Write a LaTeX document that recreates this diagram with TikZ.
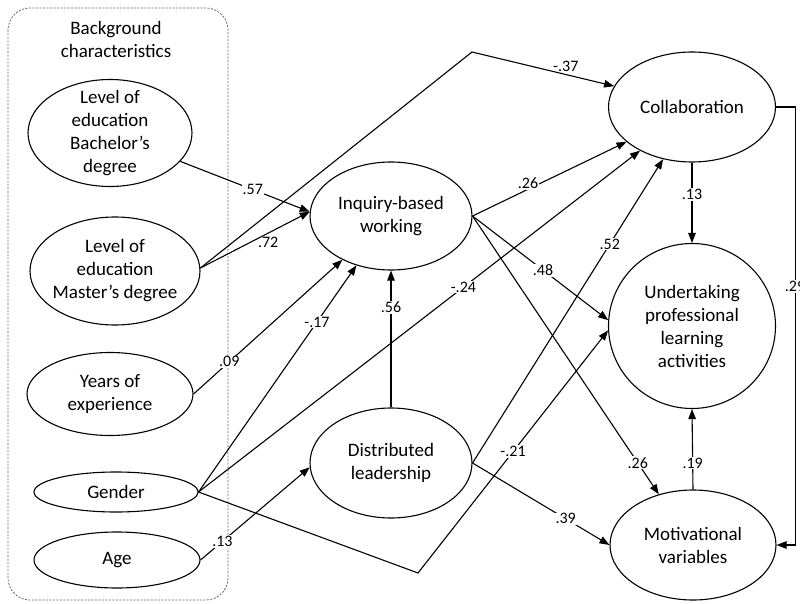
\documentclass[tikz,border=0pt]{standalone}
\usepackage{fontspec}
\setmainfont{Carlito}
\usetikzlibrary{shapes.geometric,arrows.meta,calc}
\begin{document}
\begin{tikzpicture}[x=1pt,y=-1pt,
  var/.style={ellipse,draw,line width=1.1pt,inner sep=-8pt,align=center,
              font=\fontsize{19}{23}\selectfont},
  arr/.style={-{Triangle[length=10pt,width=7.5pt]},line width=1.1pt},
  lab/.style={fill=white,inner sep=1pt,font=\fontsize{16}{18}\selectfont},
  labt/.style={inner sep=1pt,font=\fontsize{16}{18}\selectfont},
  grp/.style={draw=gray!80!black,line width=0.8pt,dash pattern=on 2pt off 1.5pt,rounded corners=22pt}]
\useasboundingbox (0,0) rectangle (800,604);
\fill[white] (0,0) rectangle (800,604);

% background group
\draw[grp] (8,8) rectangle (228,600);
\node[font=\fontsize{19}{23}\selectfont,align=center] (bgtitle) at (116,39) {Background\\characteristics};

% variables
\node[var,minimum width=164pt,minimum height=107pt] (bach) at (110,133) {Level of\\education\\Bachelor’s\\degree};
\node[var,minimum width=170pt,minimum height=108pt] (mast) at (115,271) {Level of\\education\\Master’s degree};
\node[var,minimum width=166pt,minimum height=83pt] (yrs) at (110,394) {Years of\\experience};
\node[var,minimum width=164pt,minimum height=40pt] (gend) at (116,492) {Gender};
\node[var,minimum width=166pt,minimum height=56pt] (age) at (117,560) {Age};
\node[var,minimum width=162pt,minimum height=108pt] (inq) at (391,216) {Inquiry-based\\working};
\node[var,minimum width=162pt,minimum height=110pt] (dist) at (391,463) {Distributed\\leadership};
\node[var,minimum width=167pt,minimum height=110pt] (coll) at (692,107) {Collaboration};
\node[var,minimum width=167pt,minimum height=165pt] (und) at (692,326) {Undertaking\\professional\\learning\\activities};
\node[var,minimum width=166pt,minimum height=110pt] (mot) at (693,545) {Motivational\\variables};

% bend points
\coordinate (k1) at (472,52);
\coordinate (k2) at (418,573);
\coordinate (rt) at ([xshift=19pt]coll.east);

% connectors
\draw[arr] (bach.-22) -- node[lab,pos=0.56]{.57} (inq.177);
\draw[arr] (mast.2) -- node[labt,pos=0.62,below=2pt]{.72} (inq.177);
\draw[arr] (mast.2) -- (k1) -- node[labt,pos=0.66,above=1pt]{-.37} (coll.165);
\draw[arr] (inq.east) -- node[lab,pos=0.36,above=-1pt]{.26} (coll.208);
\draw[arr] (inq.east) -- node[lab,pos=0.52]{.48} (und.176);
\draw[arr] (inq.east) -- node[lab,pos=0.887]{.26} (mot.124);
\draw[arr] (dist.east) -- node[lab,pos=0.72]{.52} (coll.241);
\draw[arr] (dist.east) -- node[lab,pos=0.68]{.39} (mot.west);
\draw[arr] (dist.north) -- node[lab,pos=0.73]{.56} (inq.south);
\draw[arr] (gend.east) -- node[lab,pos=0.6]{-.24} (coll.220);
\draw[arr] (gend.east) -- node[lab,pos=0.75]{-.17} (inq.235);
\draw[arr] (gend.east) -- (k2) -- node[lab,pos=0.5]{-.21} (und.183);
\draw[arr] (yrs.east) -- node[lab,pos=0.24]{.09} (inq.222);
\draw[arr] (age.east) -- node[lab,pos=0.2]{.13} (dist.183);
\draw[arr] (coll.south) -- node[lab,pos=0.4]{.13} (und.north);
\draw[arr] (mot.north) -- node[lab,pos=0.33]{.19} (und.south);
\draw[arr] (coll.east) -- (rt) -- node[lab,pos=0.41]{.29} (rt |- mot.east) -- (mot.east);
\end{tikzpicture}
\end{document}
